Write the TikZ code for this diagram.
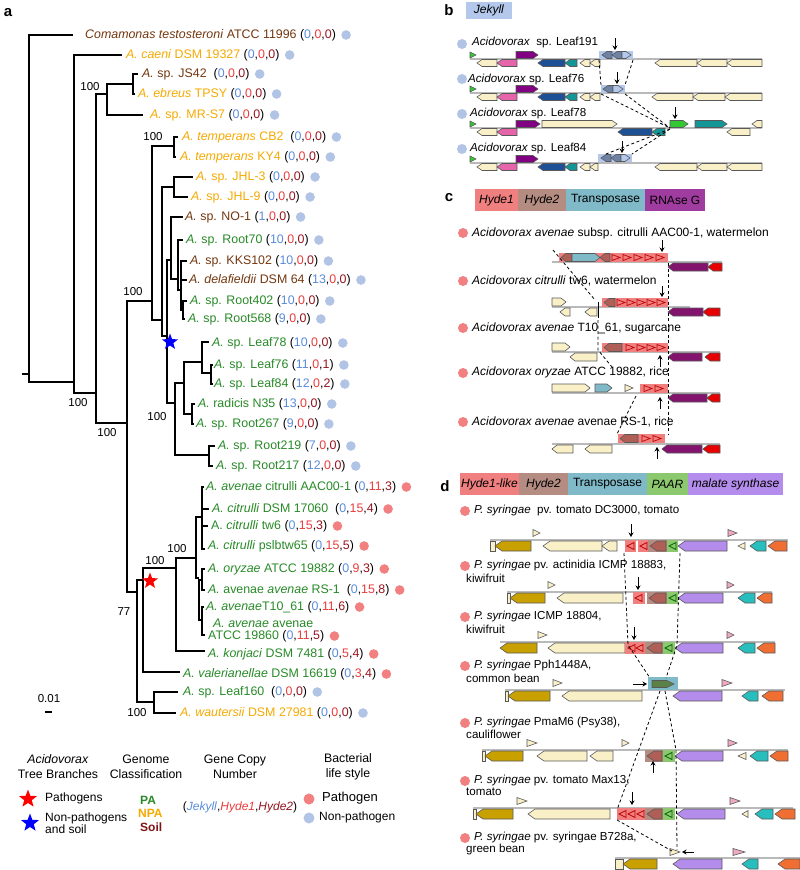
\documentclass[tikz,border=0pt]{standalone}
\usepackage{fontspec}
\setmainfont{Liberation Sans}
\usetikzlibrary{shapes.geometric,arrows.meta}
\definecolor{pa}{RGB}{40,138,40}
\definecolor{npa}{RGB}{245,170,0}
\definecolor{soil}{RGB}{115,55,15}
\definecolor{soilL}{RGB}{128,20,20}
\definecolor{jek}{RGB}{90,140,220}
\definecolor{hya}{RGB}{235,60,60}
\definecolor{hyb}{RGB}{150,20,30}
\definecolor{pdot}{RGB}{242,128,128}
\definecolor{npdot}{RGB}{178,196,230}
\definecolor{bei}{RGB}{250,240,200}
\definecolor{pnkg}{RGB}{230,100,170}
\definecolor{prp}{RGB}{130,0,130}
\definecolor{dbl}{RGB}{30,80,150}
\definecolor{tea}{RGB}{20,150,150}
\definecolor{grn}{RGB}{50,200,50}
\definecolor{jbox}{RGB}{180,200,235}
\definecolor{jg}{RGB}{110,130,165}
\definecolor{hyde1}{RGB}{240,128,128}
\definecolor{hyde2}{RGB}{180,140,130}
\definecolor{transp}{RGB}{128,185,200}
\definecolor{rnase}{RGB}{160,60,160}
\definecolor{h2g}{RGB}{175,95,85}
\definecolor{prg}{RGB}{130,20,110}
\definecolor{rdg}{RGB}{230,0,0}
\definecolor{gld}{RGB}{200,160,0}
\definecolor{lav}{RGB}{180,140,235}
\definecolor{tel}{RGB}{40,190,190}
\definecolor{org}{RGB}{240,110,50}
\definecolor{pnk}{RGB}{240,170,190}
\definecolor{paar}{RGB}{140,200,110}
\definecolor{dgr}{RGB}{90,130,70}
\newcommand\cn[3]{\textcolor{black}{(\textcolor{jek}{#1},\textcolor{hya}{#2},\textcolor{hyb}{#3})}}
\newcommand\leaf[6]{\node[lbl,text=#4] (#1) at (#2,#3) {#5};\fill[#6] ([xshift=10pt]#1.east) circle (4.8pt);}
\def\gh{4}\def\ga{5}\def\th{3.5}
\newcommand\geneR[4]{\filldraw[gene,fill=#4] (#1,#3-\gh) -- (#2-\ga,#3-\gh) -- (#2,#3) -- (#2-\ga,#3+\gh) -- (#1,#3+\gh) -- cycle;}
\newcommand\geneL[4]{\filldraw[gene,fill=#4] (#2,#3-\gh) -- (#1+\ga,#3-\gh) -- (#1,#3) -- (#1+\ga,#3+\gh) -- (#2,#3+\gh) -- cycle;}
\newcommand\triR[4]{\filldraw[gene,fill=#4] (#1,#3-\th) -- (#2,#3) -- (#1,#3+\th) -- cycle;}
\newcommand\triL[4]{\filldraw[gene,fill=#4] (#2,#3-\th) -- (#1,#3) -- (#2,#3+\th) -- cycle;}
\newcommand\otriR[3]{\draw[#3,line width=0.7] (#1,#2-3) -- (#1+8,#2) -- (#1,#2+3) -- cycle;}
\newcommand\otriL[3]{\draw[#3,line width=0.7] (#1+7,#2-3.5) -- (#1,#2) -- (#1+7,#2+3.5) -- cycle;}
\tikzset{
 lbl/.style={anchor=west,inner sep=0pt,font=\fontsize{12.4}{13}\selectfont},
 rl/.style={anchor=west,inner sep=0pt,font=\fontsize{11.6}{13}\selectfont},
 rc/.style={anchor=west,inner sep=0pt,font=\fontsize{12}{13}\selectfont},
 bs/.style={inner sep=0pt,font=\fontsize{11.5}{12}\selectfont},
 hd/.style={inner sep=0pt,align=center,font=\fontsize{12.3}{15}\selectfont},
 pl/.style={inner sep=0pt,font=\fontsize{15}{15}\selectfont\bfseries},
 tree/.style={line width=1.2},
 gene/.style={draw=black!65,line width=0.6},
 track/.style={draw=gray!55,line width=1.6},
 dsh/.style={dashed,line width=0.8,dash pattern=on 3pt off 2.5pt},
 arr/.style={-{Stealth[length=4.5pt,width=5pt]},line width=1},
 barbox/.style={inner sep=0pt,minimum height=22pt,font=\fontsize{12}{12}\selectfont},
}
\begin{document}
\begin{tikzpicture}[x=1pt,y=-1pt]
\useasboundingbox (0,0) rectangle (800,870);
\fill[white] (0,0) rectangle (800,870);
% panel labels
\node[pl] (la) at (8,13) {a};
\node[pl] (lb) at (449,10) {b};
\node[pl] (lc) at (449,198) {c};
\node[pl] (ld) at (445,486) {d};
% ---------------- tree -----------------
\begin{scope}[tree]
\draw (22,374) -- (29,374);
\draw (73,35) -- (29,35) -- (29,382) -- (74,382);
\draw (122,55) -- (74,55) -- (74,393) -- (96,393);
\draw (107,94) -- (96,94) -- (96,423) -- (127,423);
\draw (133,84) -- (107,84) -- (107,115) -- (143,115);
\draw (138,74) -- (133,74) -- (133,94) -- (135,94);
\draw (152,301) -- (127,301) -- (127,592) -- (137,592);
\draw (174,146) -- (152,146) -- (152,320) -- (162,320);
\draw (178,137) -- (174,137) -- (174,157) -- (176,157);
\draw (174,187) -- (162,187) -- (162,336) -- (167,336);
\draw (193,177) -- (174,177) -- (174,197) -- (188,197);
\draw (171,260) -- (167,260) -- (167,403) -- (175,403);
\draw (183,217) -- (171,217) -- (171,279) -- (178,279);
\draw (183,240) -- (178,240) -- (178,290) -- (181,290);
\draw (187,261) -- (181,261) -- (181,310) -- (183,310);
\draw (181,280) -- (187,280);
\draw (187,301) -- (183,301) -- (183,319) -- (185,319);
\draw (184,383) -- (175,383) -- (175,455) -- (209,455);
\draw (202,362) -- (184,362) -- (184,414) -- (192,414);
\draw (209,342) -- (202,342) -- (202,373) -- (211,373);
\draw (213,365) -- (211,365) -- (211,384) -- (213,384);
\draw (195,404) -- (192,404) -- (192,424) -- (194,424);
\draw (215,446) -- (209,446) -- (209,466) -- (213,466);
\draw (143,580) -- (137,580) -- (137,702) -- (154,702);
\draw (176,568) -- (143,568) -- (143,672) -- (180,672);
\draw (196,558) -- (176,558) -- (176,651) -- (205,651);
\draw (202,517) -- (196,517) -- (196,578) -- (199,578);
\draw (204,487) -- (202,487) -- (202,549) -- (205,549);
\draw (202,509) -- (209,509);
\draw (202,526) -- (208,526);
\draw (202,580) -- (199,580) -- (199,620) -- (202,620);
\draw (205,569) -- (202,569) -- (202,590) -- (205,590);
\draw (204,607) -- (202,607) -- (202,635) -- (205,635);
\draw (178,692) -- (154,692) -- (154,713) -- (176,713);
\end{scope}
\draw[line width=2] (45,712) -- (52,712);
\node[bs] (sc) at (49,699) {0.01};
\node[bs] (b1) at (90,87) {100};
\node[bs] (b2) at (153,137) {100};
\node[bs] (b3) at (133,292) {100};
\node[bs] (b4) at (78,403) {100};
\node[bs] (b5) at (107,433) {100};
\node[bs] (b6) at (157,417) {100};
\node[bs] (b7) at (177,549) {100};
\node[bs] (b8) at (155,561) {100};
\node[bs] (b9) at (124,612) {77};
\node[bs] (b10) at (137,713) {100};
\node[star,star points=5,star point ratio=2.4,fill=blue,inner sep=0pt,minimum size=17pt] (sb) at (170,342) {};
\node[star,star points=5,star point ratio=2.4,fill=red,inner sep=0pt,minimum size=17pt] (sr) at (150,581) {};
% leaves
\leaf{t1}{85}{35}{soil}{\textit{Comamonas testosteroni} ATCC 11996 \cn000}{npdot}
\leaf{t2}{126}{55}{npa}{\textit{A. caeni} DSM 19327 \cn000}{npdot}
\leaf{t3}{142}{74}{soil}{\textit{A.} sp. JS42 \ \cn000}{npdot}
\leaf{t4}{138}{94}{npa}{\textit{A. ebreus} TPSY \cn000}{npdot}
\leaf{t5}{150}{115}{npa}{\textit{A.} sp. MR-S7 \cn000}{npdot}
\leaf{t6}{182}{137}{npa}{\textit{A. temperans} CB2 \ \cn000}{npdot}
\leaf{t7}{180}{157}{npa}{\textit{A. temperans} KY4 \cn000}{npdot}
\leaf{t8}{196}{177}{npa}{\textit{A.} sp. JHL-3 \cn000}{npdot}
\leaf{t9}{191}{197}{npa}{\textit{A.} sp. JHL-9 \cn000}{npdot}
\leaf{t10}{185}{217}{soil}{\textit{A.} sp. NO-1 \cn100}{npdot}
\leaf{t11}{186}{240}{pa}{\textit{A.} sp. Root70 \cn{10}00}{npdot}
\leaf{t12}{190}{261}{soil}{\textit{A.} sp. KKS102 \cn{10}00}{npdot}
\leaf{t13}{189}{280}{soil}{\textit{A. delafieldii} DSM 64 \cn{13}00}{npdot}
\leaf{t14}{190}{301}{pa}{\textit{A.} sp. Root402 \cn{10}00}{npdot}
\leaf{t15}{188}{319}{pa}{\textit{A.} sp. Root568 \cn900}{npdot}
\leaf{t16}{212}{343}{pa}{\textit{A.} sp. Leaf78 \cn{10}00}{npdot}
\leaf{t17}{214}{365}{pa}{\textit{A.} sp. Leaf76 \cn{11}01}{npdot}
\leaf{t18}{214}{384}{pa}{\textit{A.} sp. Leaf84 \cn{12}02}{npdot}
\leaf{t19}{198}{404}{pa}{\textit{A.} radicis N35 \cn{13}00}{npdot}
\leaf{t20}{196}{424}{pa}{\textit{A.} sp. Root267 \cn900}{npdot}
\leaf{t21}{218}{446}{pa}{\textit{A.} sp. Root219 \cn700}{npdot}
\leaf{t22}{216}{466}{pa}{\textit{A.} sp. Root217 \cn{12}00}{npdot}
\leaf{t23}{206}{487}{pa}{\textit{A. avenae} citrulli AAC00-1 \cn0{11}3}{pdot}
\leaf{t24}{212}{509}{pa}{\textit{A. citrulli} DSM 17060 \ \cn0{15}4}{pdot}
\leaf{t25}{211}{526}{pa}{A. \textit{citrulli} tw6 \cn0{15}3}{pdot}
\leaf{t26}{208}{546}{pa}{\textit{A. citrulli} pslbtw65 \cn0{15}5}{pdot}
\leaf{t27}{208}{569}{pa}{\textit{A. oryzae} ATCC 19882 \cn093}{pdot}
\leaf{t28}{208}{590}{pa}{\textit{A.} avenae \textit{avenae} RS-1 \ \cn0{15}8}{pdot}
\leaf{t29}{206}{607}{pa}{\textit{A. avenae}T10\_61 \cn0{11}6}{pdot}
\node[lbl,text=pa] (t30a) at (213,623) {\textit{A. avenae} avenae};
\leaf{t30}{208}{636}{pa}{ATCC 19860 \cn0{11}5}{pdot}
\leaf{t31}{208}{654}{pa}{\textit{A. konjaci} DSM 7481 \cn054}{pdot}
\leaf{t32}{183}{674}{pa}{\textit{A. valerianellae} DSM 16619 \cn034}{pdot}
\leaf{t33}{183}{692}{pa}{\textit{A.} sp. Leaf160 \ \cn000}{npdot}
\leaf{t34}{180}{713}{npa}{\textit{A. wautersii} DSM 27981 \cn000}{npdot}
% legend
\node[hd] (lh1) at (58,767) {\textit{Acidovorax}\\Tree Branches};
\node[hd] (lh2) at (146,767) {Genome\\Classification};
\node[hd] (lh3) at (235,767) {Gene Copy\\Number};
\node[hd] (lh4) at (348,767) {Bacterial\\life style};
\node[star,star points=5,star point ratio=2.4,fill=red,inner sep=0pt,minimum size=19pt] (ls1) at (28,799) {};
\node[star,star points=5,star point ratio=2.4,fill=blue,inner sep=0pt,minimum size=19pt] (ls2) at (30,823) {};
\node[lbl,font=\fontsize{12}{13}\selectfont] (lt1) at (45,798) {Pathogens};
\node[lbl,align=left,font=\fontsize{12}{12.5}\selectfont] (lt2) at (45,823) {Non-pathogens\\and soil};
\node[lbl,font=\fontsize{12}{13}\selectfont\bfseries,text=pa] (lp1) at (140,800) {PA};
\node[lbl,font=\fontsize{12}{13}\selectfont\bfseries,text=npa] (lp2) at (138,813) {NPA};
\node[lbl,font=\fontsize{12}{13}\selectfont\bfseries,text=soilL] (lp3) at (140,827) {Soil};
\node[bs,font=\fontsize{12}{13}\selectfont] (lg) at (240,807) {(\textcolor{jek}{\textit{Jekyll}},\textcolor{hya}{\textit{Hyde1}},\textcolor{hyb}{\textit{Hyde2}})};
\fill[pdot] (309,799) circle (5.5pt);
\fill[npdot] (309,818) circle (5.5pt);
\node[lbl,font=\fontsize{13}{13}\selectfont] (lq1) at (322,798) {Pathogen};
\node[lbl,font=\fontsize{12}{13}\selectfont] (lq2) at (319,817) {Non-pathogen};
% ---------------- panel b -----------------
\node[barbox,fill=jbox,minimum width=46pt,minimum height=17pt] (jk) at (489,10) {\textit{Jekyll}};
\fill[npdot] (462,44) circle (5pt);
\fill[npdot] (462,79) circle (5pt);
\fill[npdot] (462,114) circle (5pt);
\fill[npdot] (462,149) circle (5pt);
\node[rl] (r1) at (472,43) {\textit{Acidovorax} \ sp. Leaf191};
\node[rl] (r2) at (468,79) {\textit{Acidovorax} sp. Leaf76};
\node[rl] (r3) at (470,113) {\textit{Acidovorax} sp. Leaf78};
\node[rl] (r4) at (470,148) {\textit{Acidovorax} sp. Leaf84};
\def\gh{3.5}\def\ga{5}\def\th{3}
% Leaf191
\draw[track] (470,59) -- (762,59);
\triR{470}{476}{55}{grn}
\geneL{477}{497}{63}{bei}\geneL{497}{517}{63}{pnkg}\geneR{516}{538}{55}{prp}
\geneL{538}{565}{63}{dbl}\geneL{565}{577}{63}{tea}\geneL{580}{590}{63}{bei}\geneL{590}{600}{63}{bei}
\fill[jbox] (599,51) rectangle (633,59);
\geneL{602}{612}{55}{jg}\geneL{612}{622}{55}{jg}\geneR{622}{631}{55}{jbox}
\geneL{655}{697}{63}{bei}\geneL{697}{727}{63}{bei}\geneL{727}{762}{63}{bei}
\draw[arr] (615,38) -- (615,50);
% Leaf76
\draw[track] (470,93) -- (762,93);
\triR{470}{476}{89}{grn}
\geneL{477}{497}{97}{bei}\geneL{497}{517}{97}{pnkg}\geneR{516}{538}{89}{prp}
\geneL{538}{565}{97}{dbl}\geneL{565}{577}{97}{tea}\geneL{580}{590}{97}{bei}\geneL{590}{600}{97}{bei}
\fill[jbox] (601,85) rectangle (625,93);
\geneL{603}{613}{89}{jg}\geneR{613}{623}{89}{jbox}
\geneL{652}{693}{97}{bei}\geneL{693}{725}{97}{bei}\geneL{725}{762}{97}{bei}
\draw[arr] (617,72) -- (617,84);
% Leaf78
\draw[track] (470,128) -- (762,128);
\triR{470}{476}{124}{grn}
\geneL{477}{497}{132}{bei}\geneL{497}{517}{132}{pnkg}\geneR{516}{540}{124}{prp}
\geneR{542}{617}{124}{bei}\geneL{618}{652}{132}{dbl}\geneL{652}{665}{132}{tea}
\geneR{670}{688}{124}{grn}\geneR{695}{727}{124}{tea}\geneL{727}{750}{132}{bei}\geneL{752}{762}{124}{bei}
\draw[arr] (675,107) -- (675,119);
% Leaf84
\draw[track] (470,163) -- (762,163);
\triR{470}{476}{159}{grn}
\geneL{477}{497}{167}{bei}\geneL{497}{517}{167}{pnkg}\geneR{516}{538}{159}{prp}
\geneL{538}{565}{167}{dbl}\geneL{565}{577}{167}{tea}\geneL{580}{590}{167}{bei}\geneL{590}{598}{167}{bei}
\fill[jbox] (598,154) rectangle (632,162);
\geneL{601}{611}{158}{jg}\geneL{611}{621}{158}{jg}\geneR{621}{630}{158}{jbox}
\geneL{655}{697}{167}{bei}\geneL{697}{727}{167}{bei}\geneL{727}{762}{167}{bei}
\draw[arr] (622,141) -- (622,153);
\draw[dsh] (599,60) -- (601,85);
\draw[dsh] (633,60) -- (625,85);
\draw[dsh] (601,94) -- (670,128);
\draw[dsh] (625,94) -- (670,128);
\draw[dsh] (670,129) -- (606,154);
\draw[dsh] (670,129) -- (632,154);
% ---------------- panel c -----------------
\node[barbox,fill=hyde1,minimum width=43pt] (c1) at (496.5,200) {\textit{Hyde1}};
\node[barbox,fill=hyde2,minimum width=48pt] (c2) at (542,200) {\textit{Hyde2}};
\node[barbox,fill=transp,minimum width=79pt] (c3) at (605.5,200) {Transposase};
\node[barbox,fill=rnase,minimum width=60pt] (c4) at (675,200) {RNAse G};
\foreach \yy in {233,281,328,373,422} \fill[pdot] (463,\yy) circle (5pt);
\node[rc] (cr1) at (472,233) {\textit{Acidovorax avenae} subsp. citrulli AAC00-1, watermelon};
\node[rc] (cr2) at (472,281) {\textit{Acidovorax citrulli} tw6, watermelon};
\node[rc] (cr3) at (472,328) {\textit{Acidovorax avenae} T10\_61, sugarcane};
\node[rc] (cr4) at (472,372) {\textit{Acidovorax oryzae} ATCC 19882, rice};
\node[rc] (cr5) at (472,422) {\textit{Acidovorax avenae} avenae RS-1, rice};
\def\gh{4}\def\ga{5}\def\th{3.5}
% row1
\draw[track] (552,262) -- (722,262);
\fill[hyde1] (559,253) rectangle (668,262);
\geneL{561}{572}{257.5}{h2g}\geneR{572}{600}{257.5}{transp}\geneL{600}{610}{257.5}{h2g}
\foreach \xx in {612,623,634,645,656} {\otriR{\xx}{257.5}{red!75!black}}
\geneL{668}{708}{267}{prg}\geneL{708}{722}{267}{rdg}
\draw[arr] (662,240) -- (662,252);
% row2
\draw[track] (552,307) -- (690,307);
\geneR{552}{566}{302}{bei}\geneL{560}{570}{312}{bei}\geneL{585}{597}{312}{bei}
\draw[line width=0.8] (598,302) -- (598,318);
\fill[hyde1] (602,298) rectangle (668,307);
\geneL{604}{615}{302.5}{h2g}
\foreach \xx in {617,627,637,647,657} {\otriR{\xx}{302.5}{red!75!black}}
\geneL{668}{703}{312}{prg}\geneL{703}{720}{312}{rdg}
\draw[arr] (662,286) -- (662,297);
% row3
\draw[track] (552,352) -- (720,352);
\geneR{552}{570}{347}{bei}\geneL{570}{597}{357}{bei}
\fill[hyde1] (602,343) rectangle (668,352);
\geneL{604}{622}{347.5}{h2g}
\foreach \xx in {626,637,647,657} {\otriR{\xx}{347.5}{red!75!black}}
\geneL{668}{702}{357}{prg}\geneL{705}{720}{357}{rdg}
\draw[arr] (660,367) -- (660,355);
% row4
\draw[track] (552,393) -- (720,393);
\geneR{552}{590}{388}{bei}\geneR{595}{612}{388}{transp}\triR{625}{633}{388}{bei}
\fill[hyde1] (640,384) rectangle (668,393);
\foreach \xx in {644,655} {\otriR{\xx}{388.5}{red!75!black}}
\geneL{668}{707}{398}{prg}\geneL{707}{720}{398}{rdg}
\draw[arr] (660,409) -- (660,397);
% row5
\draw[track] (552,444) -- (720,444);
\fill[hyde1] (618,434) rectangle (665,443);
\geneL{620}{638}{438.5}{h2g}
\foreach \xx in {642,653} {\otriR{\xx}{438.5}{red!75!black}}
\geneL{552}{573}{449}{bei}\geneL{585}{612}{449}{bei}
\geneL{662}{702}{449}{prg}\geneL{703}{720}{449}{rdg}
\draw[arr] (657,459) -- (657,447);
\draw[dsh] (553,250) -- (595,300);
\draw[dsh] (598,320) -- (598,350) -- (612,367);
\draw[dsh] (636,396) -- (617,434);
\draw[dsh] (668,263) -- (668,434);
% ---------------- panel d -----------------
\node[barbox,fill=hyde1,minimum width=59pt] (d1) at (489.5,484) {\textit{Hyde1-like}};
\node[barbox,fill=hyde2,minimum width=49pt] (d2) at (543.5,484) {\textit{Hyde2}};
\node[barbox,fill=transp,minimum width=79pt] (d3) at (607.5,484) {Transposase};
\node[barbox,fill=paar,minimum width=41pt] (d4) at (667.5,484) {\textit{PAAR}};
\node[barbox,fill=lav,minimum width=95pt] (d5) at (735.5,484) {\textit{malate synthase}};
\foreach \yy in {511,566,617,666,723,781,838} \fill[pdot] (465,\yy) circle (5pt);
\node[rl] (dr1) at (474,510) {\textit{P. syringae} \ pv. tomato DC3000, tomato};
\node[rl] (dr2) at (474,565) {\textit{P. syringae} pv. actinidia ICMP 18883,};
\node[rl] (dr2b) at (466,578) {kiwifruit};
\node[rl] (dr3) at (474,616) {\textit{P. syringae} ICMP 18804,};
\node[rl] (dr3b) at (466,629) {kiwifruit};
\node[rl] (dr4) at (474,665) {\textit{P. syringae} Pph1448A,};
\node[rl] (dr4b) at (466,678) {common bean};
\node[rl] (dr5) at (474,722) {\textit{P. syringae} PmaM6 (Psy38),};
\node[rl] (dr5b) at (466,734) {cauliflower};
\node[rl] (dr6) at (474,780) {\textit{P. syringae} pv. tomato Max13,};
\node[rl] (dr6b) at (466,792) {tomato};
\node[rl] (dr7) at (474,837) {\textit{P. syringae} pv. syringae B728a,};
\node[rl] (dr7b) at (466,849) {green bean};
\def\gh{5}\def\ga{7}\def\th{3.5}
% row1
\draw[track] (490,540) -- (788,540);
\filldraw[gene,fill=bei] (490,541) rectangle (495,551);
\geneL{495}{531}{546}{gld}\geneL{543}{602}{546}{bei}\geneL{602}{617}{546}{bei}
\fill[hyde1] (625,540) rectangle (636,552); \otriL{627}{546}{red!75!black}
\fill[hyde1] (638,540) rectangle (648,552); \otriL{640}{546}{red!75!black}
\fill[hyde2] (648,540) rectangle (667,552); \geneL{650}{666}{546}{h2g}
\fill[paar] (667,540) rectangle (678,552); \otriL{669}{546}{green!40!black}
\geneL{678}{727}{546}{lav}\triL{738}{745}{546}{bei}\geneL{750}{766}{546}{tel}\geneL{768}{787}{546}{org}
\triR{533}{540}{533}{bei}\triR{728}{737}{533}{pnk}
\draw[arr] (631,524) -- (631,537);
% row2
\draw[track] (507,592) -- (772,592);
\filldraw[gene,fill=bei] (507,593) rectangle (510,603);
\geneL{510}{545}{598}{gld}\geneL{557}{623}{598}{bei}
\fill[hyde1] (633,592) rectangle (645,604); \otriL{635}{598}{red!75!black}
\fill[hyde2] (647,592) rectangle (667,604); \geneL{649}{666}{598}{h2g}
\fill[paar] (667,592) rectangle (678,604); \otriL{669}{598}{green!40!black}
\geneL{678}{723}{598}{lav}\geneL{738}{755}{598}{tel}\geneL{757}{772}{598}{org}
\triR{548}{555}{585}{bei}\triR{727}{734}{585}{pnk}
\draw[arr] (638,577) -- (638,590);
% row3
\draw[track] (500,642) -- (775,642);
\geneL{500}{537}{648}{gld}\geneL{548}{625}{648}{bei}
\fill[hyde1] (625,642) rectangle (645,654); \otriL{628}{648}{red!75!black}\otriL{636}{648}{red!75!black}
\fill[hyde2] (645,642) rectangle (663,654); \geneL{647}{662}{648}{h2g}
\fill[paar] (663,642) rectangle (675,654); \otriL{665}{648}{green!40!black}
\geneL{675}{723}{648}{lav}\geneL{738}{755}{648}{tel}\geneL{757}{775}{648}{org}
\triR{538}{547}{635}{bei}\triR{727}{734}{635}{pnk}
\draw[arr] (634,627) -- (634,640);
% row4
\draw[track] (505,690) -- (785,690);
\filldraw[gene,fill=bei] (505,691) rectangle (508,701);
\geneL{508}{550}{696}{gld}\geneL{562}{642}{696}{bei}\geneL{673}{722}{696}{lav}\geneL{742}{758}{696}{tel}\geneL{762}{783}{696}{org}
\fill[transp] (648,677) rectangle (678,690);
{\def\gh{3.5}\geneR{652}{674}{684}{dgr}}
\triR{553}{562}{683}{bei}\triR{722}{732}{683}{pnk}
\draw[arr] (633,684) -- (647,684);
% row5
\draw[track] (482,750) -- (788,750);
\filldraw[gene,fill=bei] (482,751) rectangle (485,761);
\geneL{485}{523}{756}{gld}\geneL{537}{587}{756}{bei}\geneL{590}{613}{756}{bei}
\fill[hyde2] (645,750) rectangle (663,762); \geneL{647}{662}{756}{h2g}
\fill[paar] (663,750) rectangle (675,762); \otriL{665}{756}{green!40!black}
\geneL{675}{723}{756}{lav}\triL{738}{746}{756}{bei}\geneL{750}{768}{756}{tel}\geneL{770}{788}{756}{org}
\triR{527}{537}{743}{bei}\triR{622}{629}{743}{bei}\triR{728}{737}{743}{pnk}
\draw[arr] (653,773) -- (653,761);
% row6
\draw[track] (473,808) -- (793,808);
\filldraw[gene,fill=bei] (473,809) rectangle (476,819);
\geneL{476}{513}{814}{gld}\geneL{528}{610}{814}{bei}
\fill[hyde1] (617,808) rectangle (645,820);
\otriL{619}{814}{red!75!black}\otriL{628}{814}{red!75!black}\otriL{637}{814}{red!75!black}
\fill[hyde2] (645,808) rectangle (663,820); \geneL{647}{662}{814}{h2g}
\fill[paar] (663,808) rectangle (675,820); \otriL{665}{814}{green!40!black}
\geneL{677}{725}{814}{lav}\triL{742}{748}{814}{bei}\geneL{755}{773}{814}{tel}\geneL{775}{795}{814}{org}
\triR{517}{527}{801}{bei}\triR{730}{740}{801}{pnk}
\draw[arr] (632,792) -- (632,805);
% row7
\draw[track] (615,858) -- (800,858);
\filldraw[gene,fill=bei] (615,859) rectangle (623,869);
\geneL{623}{657}{864}{gld}\geneL{673}{722}{864}{lav}\geneL{742}{758}{864}{tel}\geneL{778}{800}{864}{org}
\triR{670}{680}{852}{bei}\triR{733}{745}{852}{pnk}
\draw[arr] (694,852) -- (682,852);
% dashed
\draw[dsh] (624,553) -- (628,645) -- (650,678);
\draw[dsh] (680,553) -- (677,645) -- (666,678);
\draw[dsh] (660,691) -- (617,810);
\draw[dsh] (665,691) -- (676,750) -- (677,850);
\draw[dsh] (617,820) -- (672,851);
\end{tikzpicture}
\end{document}
